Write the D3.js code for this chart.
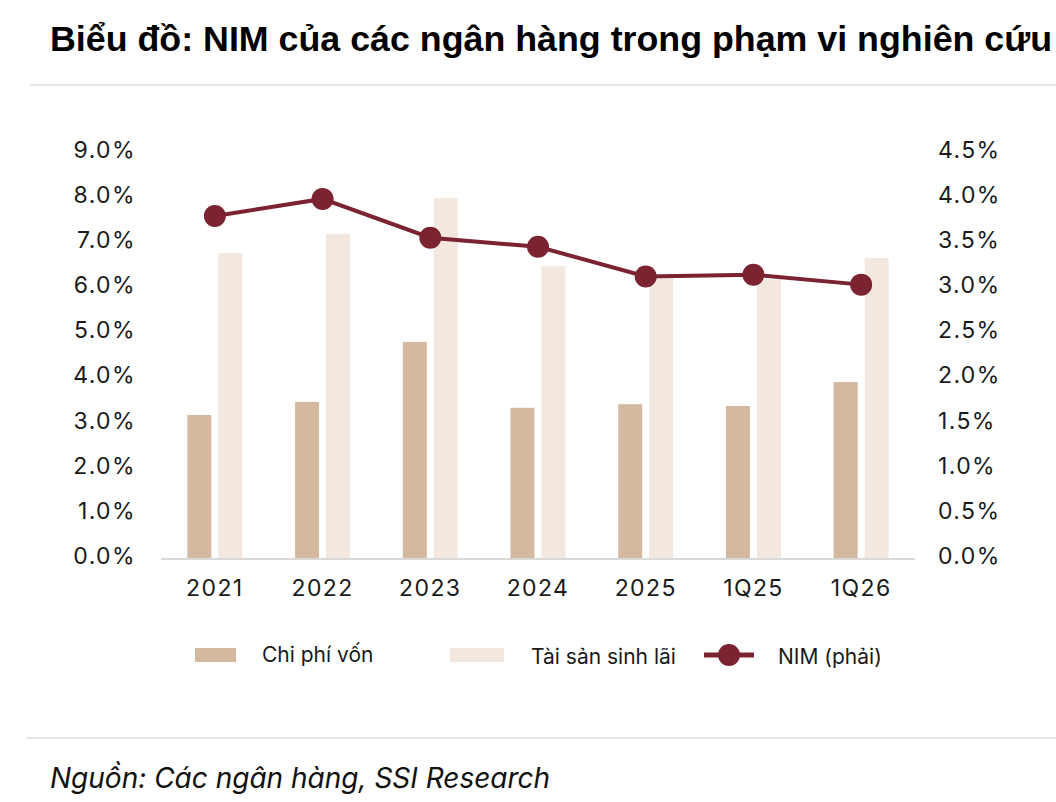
<!DOCTYPE html>
<html>
<head>
<meta charset="utf-8">
<script src="https://cdn.jsdelivr.net/npm/d3@7"></script>
<style>
  body { margin: 0; background: #fff; }
  svg { display: block; }
  text { font-family: Inter, "Noto Sans", sans-serif; fill: #1a1a1a; }
</style>
</head>
<body>
<div id="chart"></div>
<script>
// data
const categories = ["2021", "2022", "2023", "2024", "2025", "1Q25", "1Q26"];
const chiPhiVon = [3.17, 3.46, 4.79, 3.33, 3.41, 3.37, 3.90];
const taiSanSinhLai = [6.76, 7.18, 7.98, 6.47, 6.20, 6.18, 6.65];
const nim = [3.79, 3.98, 3.55, 3.45, 3.12, 3.14, 3.03];
const leftTicks = [0, 1, 2, 3, 4, 5, 6, 7, 8, 9];
const rightTicks = [0, 0.5, 1, 1.5, 2, 2.5, 3, 3.5, 4, 4.5];

const width = 1056, height = 802;
const colCost = "#d4b9a0", colAsset = "#f3e8df", colNim = "#7b2330";

const svg = d3.select("#chart").append("svg")
    .attr("width", width)
    .attr("height", height);

// title (squeezed to the width of the original)
svg.append("text")
    .attr("x", 50).attr("y", 51)
    .style("font-family", "'Liberation Sans', Arial, sans-serif")
    .style("font-weight", "bold")
    .style("font-size", "35px")
    .style("fill", "#000")
    .attr("textLength", 1002)
    .attr("lengthAdjust", "spacingAndGlyphs")
    .text("Biểu đồ: NIM của các ngân hàng trong phạm vi nghiên cứu");

// separators
svg.append("line").attr("x1", 30).attr("x2", width).attr("y1", 85).attr("y2", 85)
    .style("stroke", "#dedede").style("stroke-width", 1.5);
svg.append("line").attr("x1", 27).attr("x2", width).attr("y1", 738).attr("y2", 738)
    .style("stroke", "#dedede").style("stroke-width", 1.5);

// scales
const x = d3.scaleBand().domain(categories).range([161, 915]);
const yL = d3.scaleLinear().domain([0, 9]).range([558, 152]);
const yR = d3.scaleLinear().domain([0, 4.5]).range([558, 152]);

const barW = 24, gap = 7;

function styleTicks(g) {
    g.select(".domain").remove();
    g.selectAll("text")
        .style("font-size", "23px").style("letter-spacing", "1.4px")
        .style("font-family", "Inter, sans-serif").attr("fill", "#1a1a1a");
}

// left axis
svg.append("g")
    .attr("transform", "translate(136,-2)")
    .call(d3.axisLeft(yL).tickValues(leftTicks).tickSize(0).tickPadding(0)
        .tickFormat(d => d.toFixed(1) + "%"))
    .call(styleTicks);

// right axis
svg.append("g")
    .attr("transform", "translate(938,-2)")
    .call(d3.axisRight(yR).tickValues(rightTicks).tickSize(0).tickPadding(0)
        .tickFormat(d => d.toFixed(1) + "%"))
    .call(styleTicks);

// bars
svg.append("g").selectAll("rect")
    .data(categories)
    .enter().append("rect")
    .attr("x", (d) => x(d) + x.bandwidth() / 2 - gap / 2 - barW)
    .attr("y", (d, i) => yL(chiPhiVon[i]))
    .attr("width", barW)
    .attr("height", (d, i) => yL(0) - yL(chiPhiVon[i]))
    .style("fill", colCost);

svg.append("g").selectAll("rect")
    .data(categories)
    .enter().append("rect")
    .attr("x", (d) => x(d) + x.bandwidth() / 2 + gap / 2)
    .attr("y", (d, i) => yL(taiSanSinhLai[i]))
    .attr("width", barW)
    .attr("height", (d, i) => yL(0) - yL(taiSanSinhLai[i]))
    .style("fill", colAsset);

// baseline
svg.append("line").attr("x1", 161).attr("x2", 915).attr("y1", yL(0) + 1).attr("y2", yL(0) + 1)
    .style("stroke", "#d9d9d9").style("stroke-width", 2);

// x axis labels
svg.append("g")
    .attr("transform", "translate(0," + (yL(0) + 22) + ")")
    .call(d3.axisBottom(x).tickSize(0).tickPadding(0))
    .call(styleTicks);

// NIM line
const line = d3.line()
    .x((d, i) => x(categories[i]) + x.bandwidth() / 2)
    .y(d => yR(d));

svg.append("path")
    .datum(nim)
    .attr("d", line)
    .style("fill", "none")
    .style("stroke", colNim)
    .style("stroke-width", 4);

svg.append("g").selectAll("circle")
    .data(nim)
    .enter().append("circle")
    .attr("cx", (d, i) => x(categories[i]) + x.bandwidth() / 2)
    .attr("cy", d => yR(d))
    .attr("r", 11)
    .style("fill", colNim);

// legend
const legend = svg.append("g").style("font-size", "21px");
legend.append("rect").attr("x", 195).attr("y", 648).attr("width", 41).attr("height", 14).style("fill", colCost);
legend.append("text").attr("x", 262).attr("y", 662).text("Chi phí vốn");
legend.append("rect").attr("x", 450).attr("y", 648).attr("width", 54).attr("height", 14).style("fill", colAsset);
legend.append("text").attr("x", 531).attr("y", 664).text("Tài sản sinh lãi");
legend.append("line").attr("x1", 704).attr("x2", 754).attr("y1", 655).attr("y2", 655)
    .style("stroke", colNim).style("stroke-width", 5);
legend.append("circle").attr("cx", 729).attr("cy", 655).attr("r", 11).style("fill", colNim);
legend.append("text").attr("x", 778).attr("y", 664).text("NIM (phải)");

// source
svg.append("text")
    .attr("x", 50).attr("y", 788)
    .style("font-size", "28px")
    .style("font-style", "italic")
    .style("fill", "#111")
    .text("Nguồn: Các ngân hàng, SSI Research");
</script>
</body>
</html>
